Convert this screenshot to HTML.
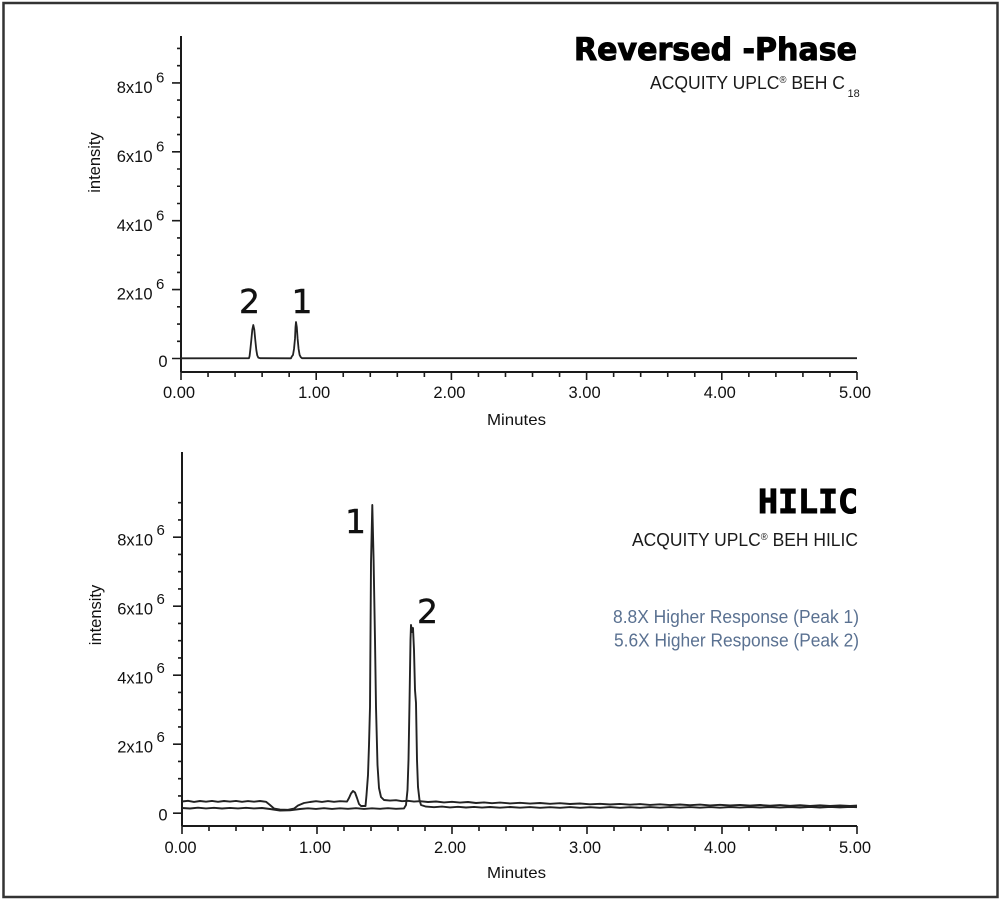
<!DOCTYPE html>
<html>
<head>
<meta charset="utf-8">
<style>
html,body{margin:0;padding:0;background:#fff;}
svg{display:block;}
</style>
</head>
<body>
<svg width="1006" height="906" viewBox="0 0 1006 906" xmlns="http://www.w3.org/2000/svg">
<rect x="0" y="0" width="1006" height="906" fill="#fff"/>
<rect x="3.5" y="3" width="994" height="894" fill="none" stroke="#333" stroke-width="2.5"/>

<!-- ================= TOP PANEL ================= -->
<g stroke="#1a1a1a" fill="none" stroke-width="2">
  <path d="M181 36 V372 M181 372 H857"/>
</g>
<g stroke="#1a1a1a" fill="none" stroke-width="1.6">
  <path d="M172 358.5h9 M172 289.6h9 M172 220.7h9 M172 151.8h9 M172 82.9h9"/>
  <path d="M177 341.3h4 M177 324.05h4 M177 306.8h4 M177 272.4h4 M177 255.15h4 M177 237.9h4 M177 203.5h4 M177 186.25h4 M177 169h4 M177 134.6h4 M177 117.35h4 M177 100.1h4 M177 65.7h4 M177 48.45h4"/>
  <path d="M181 372v8 M316.2 372v8 M451.4 372v8 M586.6 372v8 M721.8 372v8 M857 372v8"/>
  <path d="M208.04 372v5 M235.08 372v5 M262.12 372v5 M289.16 372v5 M343.24 372v5 M370.28 372v5 M397.32 372v5 M424.36 372v5 M478.44 372v5 M505.48 372v5 M532.52 372v5 M559.56 372v5 M613.64 372v5 M640.68 372v5 M667.72 372v5 M694.76 372v5 M748.84 372v5 M775.88 372v5 M802.92 372v5 M829.96 372v5"/>
</g>

<path d="M181 358.3 L249 358.2 L249.6 356 L250.3 349.8 L251.3 340.2 L252.3 329.7 L253.3 325 L254.3 329.7 L255.3 340.2 L256.3 349.8 L257.2 355.2 L258.3 357.6 L260 358.2 L291 358.3 L291.8 356.5 L293 354.9 L294 349 L295 338.6 L295.5 327.1 L296 322 L296.8 327.1 L297.6 338.6 L298.6 349 L299.6 354.9 L300.8 357.2 L302 358.2 L857 358.2"
      fill="none" stroke="#222" stroke-width="1.8" stroke-linejoin="round"/>

<g font-family="'Liberation Sans', Arial, sans-serif" fill="#111">
  <text x="152.5" y="93" font-size="16.5" text-anchor="end">8x10</text>
  <text x="156" y="82.5" font-size="15">6</text>
  <text x="152.5" y="161.9" font-size="16.5" text-anchor="end">6x10</text>
  <text x="156" y="151.4" font-size="15">6</text>
  <text x="152.5" y="230.8" font-size="16.5" text-anchor="end">4x10</text>
  <text x="156" y="220.3" font-size="15">6</text>
  <text x="152.5" y="299.7" font-size="16.5" text-anchor="end">2x10</text>
  <text x="156" y="289.2" font-size="15">6</text>
  <text x="167.5" y="366.8" font-size="16.5" text-anchor="end">0</text>
</g>
<g font-family="'Liberation Sans', Arial, sans-serif" fill="#111" font-size="16.5" text-anchor="middle">
  <text x="179" y="398">0.00</text>
  <text x="314.2" y="398">1.00</text>
  <text x="449.4" y="398">2.00</text>
  <text x="584.6" y="398">3.00</text>
  <text x="719.8" y="398">4.00</text>
  <text x="855" y="398">5.00</text>
</g>
<text x="516.5" y="425" font-family="'Liberation Sans', Arial, sans-serif" font-size="16" text-anchor="middle" fill="#111" textLength="59" lengthAdjust="spacingAndGlyphs">Minutes</text>
<text x="100" y="162.5" font-family="'Liberation Sans', Arial, sans-serif" font-size="16.5" text-anchor="middle" fill="#111" transform="rotate(-90 100 162.5)">intensity</text>

<g font-family="'DejaVu Sans', Verdana, sans-serif" font-size="33" fill="#111" text-anchor="middle" stroke="#111" stroke-width="0.4">
  <text x="249.5" y="313">2</text>
  <text x="302" y="313">1</text>
</g>

<text x="574" y="60" font-family="'DejaVu Sans', 'Liberation Sans', sans-serif" font-weight="bold" font-size="31" fill="#000" stroke="#000" stroke-width="1" textLength="283" lengthAdjust="spacingAndGlyphs">Reversed -Phase</text>
<text x="650" y="89" font-family="'Liberation Sans', Arial, sans-serif" font-size="18.5" fill="#1a1a1a" textLength="195" lengthAdjust="spacingAndGlyphs">ACQUITY UPLC<tspan font-size="10" dy="-6">®</tspan><tspan dy="6"> BEH C</tspan></text>
<text x="847.5" y="97" font-family="'Liberation Sans', Arial, sans-serif" font-size="11" fill="#1a1a1a">18</text>

<!-- ================= BOTTOM PANEL ================= -->
<g stroke="#1a1a1a" fill="none" stroke-width="2">
  <path d="M182 452 V826 M182 826 H857"/>
</g>
<g stroke="#1a1a1a" fill="none" stroke-width="1.6">
  <path d="M173 813.2h9 M173 744.2h9 M173 675.2h9 M173 606.2h9 M173 537.2h9"/>
  <path d="M178 795.95h4 M178 778.7h4 M178 761.45h4 M178 726.95h4 M178 709.7h4 M178 692.45h4 M178 657.95h4 M178 640.7h4 M178 623.45h4 M178 588.95h4 M178 571.7h4 M178 554.45h4 M178 519.95h4 M178 502.7h4"/>
  <path d="M182 826v8 M317 826v8 M452 826v8 M587 826v8 M722 826v8 M857 826v8"/>
  <path d="M209 826v5 M236 826v5 M263 826v5 M290 826v5 M344 826v5 M371 826v5 M398 826v5 M425 826v5 M479 826v5 M506 826v5 M533 826v5 M560 826v5 M614 826v5 M641 826v5 M668 826v5 M695 826v5 M749 826v5 M776 826v5 M803 826v5 M830 826v5"/>
</g>

<path d="M182 801.5 L188 800.8 L194 801.9 L200 801 L206 801.7 L212 800.9 L218 801.8 L224 801 L230 801.6 L236 800.9 L242 801.8 L248 801.1 L254 801.7 L260 801 L266 801.8 L270 805 L274 808.5 L280 809.6 L288 809.8 L294 808.6 L298 805.5 L304 803 L310 802 L316 801.2 L322 801.9 L328 801.1 L334 801.8 L340 801.2 L347 801.6 L349 798 L351 793.5 L353 791 L355 792.5 L357 798 L359 804 L361 806 L365.5 806 L366.5 795 L368 775 L369 745 L370 707 L371 563 L372.3 505 L373.6 560 L375 640 L376 707 L377.5 765 L379 788 L381 797 L384 800 L390 800.6 L396 800.2 L402 801.2 L408 800.8 L414 801.6 L420 801.2 L428 802 L436 801.5 L444 802.4 L452 801.8 L460 802.6 L468 802 L476 803 L484 802.4 L492 803.2 L500 802.6 L510 803.4 L520 802.8 L530 803.6 L540 803 L550 803.8 L560 803.2 L570 804 L580 803.5 L590 804.3 L600 803.8 L610 804.5 L620 803.9 L630 804.7 L640 804.1 L650 804.9 L660 804.3 L670 805.1 L680 804.5 L690 805.2 L700 804.6 L710 805.4 L720 804.8 L730 805.5 L740 804.9 L750 805.6 L760 805 L770 805.7 L780 805.1 L790 805.8 L800 805.2 L810 805.9 L820 805.3 L830 806 L840 805.4 L850 806 L857 805.6"
      fill="none" stroke="#222" stroke-width="1.9" stroke-linejoin="round"/>

<path d="M182 808 L190 808.5 L198 807.7 L206 808.4 L214 807.8 L222 808.5 L230 807.9 L238 808.4 L246 807.8 L254 808.4 L262 808 L270 809 L280 810.5 L290 810.3 L300 809 L308 808.3 L316 808.9 L324 808.2 L332 808.9 L340 808.3 L348 808.8 L356 808.2 L364 808.9 L372 808.3 L380 808.8 L388 808.2 L396 808.8 L404 808.4 L406 805 L407.5 790 L408.5 760 L409.5 703 L410.5 640 L411 625 L412 632 L413 628 L414 650 L415 690 L416 703 L417 760 L418 787 L419.5 800 L421 805 L426 806.6 L434 807.2 L442 806.6 L450 807.4 L458 806.8 L466 807.5 L474 806.9 L482 807.6 L490 807 L500 807.7 L510 807 L520 807.7 L530 807.1 L540 807.8 L550 807.2 L560 807.8 L570 807.1 L580 807.8 L590 807.2 L600 807.8 L610 807.1 L620 807.8 L630 807.2 L640 807.8 L650 807.1 L660 807.7 L670 807.1 L680 807.7 L690 807.1 L700 807.7 L710 807.1 L720 807.7 L730 807.1 L740 807.6 L750 807 L760 807.6 L770 807 L780 807.6 L790 807 L800 807.5 L810 806.9 L820 807.5 L830 806.9 L840 807.4 L850 806.9 L857 807.2"
      fill="none" stroke="#222" stroke-width="1.9" stroke-linejoin="round"/>

<g font-family="'Liberation Sans', Arial, sans-serif" fill="#111">
  <text x="153" y="545.5" font-size="16.5" text-anchor="end">8x10</text>
  <text x="156.5" y="535" font-size="15">6</text>
  <text x="153" y="614.5" font-size="16.5" text-anchor="end">6x10</text>
  <text x="156.5" y="604" font-size="15">6</text>
  <text x="153" y="683.5" font-size="16.5" text-anchor="end">4x10</text>
  <text x="156.5" y="673" font-size="15">6</text>
  <text x="153" y="752.5" font-size="16.5" text-anchor="end">2x10</text>
  <text x="156.5" y="742" font-size="15">6</text>
  <text x="167.5" y="820.5" font-size="16.5" text-anchor="end">0</text>
</g>
<g font-family="'Liberation Sans', Arial, sans-serif" fill="#111" font-size="16.5" text-anchor="middle">
  <text x="180.5" y="853">0.00</text>
  <text x="315" y="853">1.00</text>
  <text x="450" y="853">2.00</text>
  <text x="585" y="853">3.00</text>
  <text x="720" y="853">4.00</text>
  <text x="855" y="853">5.00</text>
</g>
<text x="516.5" y="878" font-family="'Liberation Sans', Arial, sans-serif" font-size="16" text-anchor="middle" fill="#111" textLength="59" lengthAdjust="spacingAndGlyphs">Minutes</text>
<text x="101" y="615" font-family="'Liberation Sans', Arial, sans-serif" font-size="16.5" text-anchor="middle" fill="#111" transform="rotate(-90 101 615)">intensity</text>

<g font-family="'DejaVu Sans', Verdana, sans-serif" font-size="33" fill="#111" text-anchor="middle" stroke="#111" stroke-width="0.4">
  <text x="355.5" y="533">1</text>
  <text x="427.5" y="623">2</text>
</g>

<text x="758" y="513" font-family="'DejaVu Sans Mono', 'Liberation Mono', monospace" font-weight="bold" font-size="33" fill="#000" stroke="#000" stroke-width="1" textLength="100" lengthAdjust="spacingAndGlyphs">HILIC</text>
<text x="632" y="546" font-family="'Liberation Sans', Arial, sans-serif" font-size="18.5" fill="#1a1a1a" textLength="226" lengthAdjust="spacingAndGlyphs">ACQUITY UPLC<tspan font-size="10" dy="-6">®</tspan><tspan dy="6"> BEH HILIC</tspan></text>
<text x="613" y="623" font-family="'Liberation Sans', Arial, sans-serif" font-size="18" fill="#5a7191" textLength="246" lengthAdjust="spacingAndGlyphs">8.8X Higher Response (Peak 1)</text>
<text x="614" y="646.5" font-family="'Liberation Sans', Arial, sans-serif" font-size="18" fill="#5a7191" textLength="245" lengthAdjust="spacingAndGlyphs">5.6X Higher Response (Peak 2)</text>
</svg>
</body>
</html>
